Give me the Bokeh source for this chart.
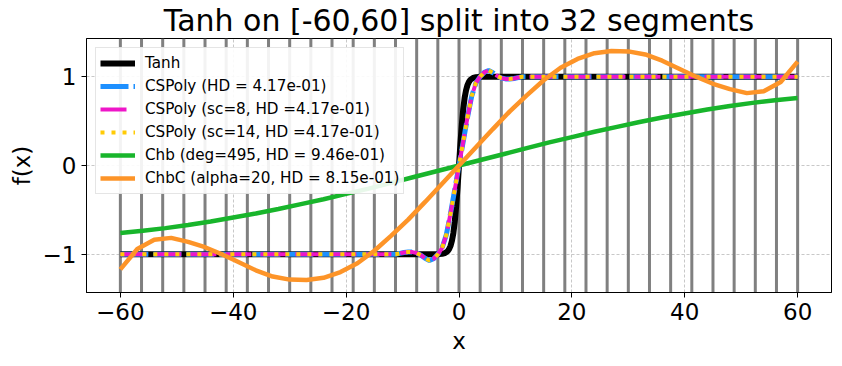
from bokeh.plotting import figure
from bokeh.models import Span, FixedTicker, Range1d
from bokeh.embed import file_html
from bokeh.resources import INLINE

# ---------------- data ----------------
title_text = "Tanh on [-60,60] split into 32 segments"

seg_bounds = [-60, -56.25, -52.5, -48.75, -45, -41.25, -37.5, -33.75, -30,
              -26.25, -22.5, -18.75, -15, -11.25, -7.5, -3.75, 0, 3.75, 7.5,
              11.25, 15, 18.75, 22.5, 26.25, 30, 33.75, 37.5, 41.25, 45,
              48.75, 52.5, 56.25, 60]

x_ticks = [-60, -40, -20, 0, 20, 40, 60]
y_ticks = [-1, 0, 1]

tanh_x = [-60, -10, -5, -4, -3.5, -3, -2.5, -2, -1.75, -1.5, -1.25, -1, -0.75,
          -0.5, -0.25, 0, 0.25, 0.5, 0.75, 1, 1.25, 1.5, 1.75, 2, 2.5, 3, 3.5,
          4, 5, 10, 60]
tanh_y = [-1, -1, -1, -0.999, -0.998, -0.995, -0.987, -0.964, -0.941, -0.905,
          -0.848, -0.762, -0.635, -0.462, -0.245, 0, 0.245, 0.462, 0.635,
          0.762, 0.848, 0.905, 0.941, 0.964, 0.987, 0.995, 0.998, 0.999, 1, 1, 1]

cs_x = [-60, -11.25, -10.5, -9.75, -9, -8.25, -7.5, -6.75, -6, -5.25, -4.5,
        -3.75, -3, -2.25, -1.5, -0.75, 0, 0.75, 1.5, 2.25, 3, 3.75, 4.5, 5.25,
        6, 6.75, 7.5, 8.25, 9, 9.75, 10.5, 11.25, 60]
cspoly_y = [-1, -1, -0.99, -0.98, -0.975, -0.975, -0.985, -1.01, -1.045, -1.07,
            -1.05, -1.0, -0.93, -0.78, -0.54, -0.27, 0, 0.27, 0.54, 0.78, 0.93,
            1.0, 1.05, 1.07, 1.045, 1.01, 0.985, 0.975, 0.975, 0.98, 0.99, 1, 1]
cspoly_sc8_y = [-1, -1, -0.99, -0.98, -0.975, -0.975, -0.985, -1.01, -1.045, -1.07,
                -1.05, -1.0, -0.93, -0.78, -0.54, -0.27, 0, 0.27, 0.54, 0.78, 0.93,
                1.0, 1.05, 1.07, 1.045, 1.01, 0.985, 0.975, 0.975, 0.98, 0.99, 1, 1]
cspoly_sc14_y = [-1, -1, -0.99, -0.98, -0.975, -0.975, -0.985, -1.01, -1.045, -1.07,
                 -1.05, -1.0, -0.93, -0.78, -0.54, -0.27, 0, 0.27, 0.54, 0.78, 0.93,
                 1.0, 1.05, 1.07, 1.045, 1.01, 0.985, 0.975, 0.975, 0.98, 0.99, 1, 1]

chb_x = [-60, -56, -52, -48, -44, -40, -36, -32, -28, -24, -20, -16, -12, -8,
         -4, 0, 4, 8, 12, 16, 20, 24, 28, 32, 36, 40, 44, 48, 52, 56, 60]
chb_y = [-0.76, -0.735, -0.705, -0.67, -0.63, -0.585, -0.54, -0.49, -0.435,
         -0.38, -0.32, -0.26, -0.195, -0.13, -0.065, 0, 0.065, 0.13, 0.195,
         0.26, 0.32, 0.38, 0.435, 0.49, 0.54, 0.585, 0.63, 0.67, 0.705, 0.735,
         0.76]

chbc_x = [-60, -57, -54, -51, -48, -45, -42, -39, -36, -33, -30, -27, -24,
          -21, -18, -15, -12, -9, -6, -3, 0, 3, 6, 9, 12, 15, 18, 21, 24, 27,
          30, 33, 36, 39, 42, 45, 48, 51, 54, 57, 60]
chbc_y = [-1.17, -0.94, -0.835, -0.815, -0.86, -0.92, -1.0, -1.09, -1.18,
          -1.25, -1.285, -1.29, -1.265, -1.2, -1.1, -0.96, -0.79, -0.61, -0.41,
          -0.205, 0, 0.205, 0.41, 0.61, 0.79, 0.96, 1.1, 1.2, 1.265, 1.29,
          1.285, 1.25, 1.18, 1.09, 1.0, 0.92, 0.86, 0.815, 0.835, 0.94, 1.17]

labels = ["Tanh", "CSPoly (HD = 4.17e-01)", "CSPoly (sc=8, HD =4.17e-01)",
          "CSPoly (sc=14, HD =4.17e-01)", "Chb (deg=495, HD = 9.46e-01)",
          "ChbC (alpha=20, HD = 8.15e-01)"]

FONT = "DejaVu Sans"

p = figure(width=833, height=357, output_backend="svg", toolbar_location=None,
           x_range=Range1d(-66, 66), y_range=Range1d(-1.43, 1.43),
           min_border_left=86, min_border_right=2, min_border_top=32,
           min_border_bottom=65)

p.title.text = title_text
p.title.align = "center"
p.title.text_font = FONT
p.title.text_font_size = "30px"
p.title.text_font_style = "normal"
p.title.text_color = "black"
p.title.standoff = 1

p.background_fill_color = "white"
p.border_fill_color = "white"
p.outline_line_color = "black"
p.outline_line_alpha = 1.0
p.outline_line_width = 1

p.xaxis.ticker = FixedTicker(ticks=x_ticks)
p.yaxis.ticker = FixedTicker(ticks=y_ticks)
p.xaxis.major_label_overrides = {t: str(t).replace("-", "\u2212") for t in x_ticks}
p.yaxis.major_label_overrides = {t: str(t).replace("-", "\u2212") for t in y_ticks}
p.xaxis.axis_label = "x"
p.yaxis.axis_label = "f(x)"
for ax in (p.xaxis, p.yaxis):
    ax.axis_line_color = "black"
    ax.axis_line_width = 1
    ax.major_tick_out = 5
    ax.major_tick_in = 0
    ax.major_tick_line_color = "black"
    ax.minor_tick_out = 0
    ax.minor_tick_in = 0
    ax.major_label_text_font = FONT
    ax.major_label_text_font_size = "23px"
    ax.major_label_text_color = "black"
    ax.major_label_standoff = 5
    ax.axis_label_text_font = FONT
    ax.axis_label_text_font_size = "23px"
    ax.axis_label_text_font_style = "normal"
    ax.axis_label_text_color = "black"
    ax.axis_label_standoff = 5

for g in (p.xgrid, p.ygrid):
    g.grid_line_color = "#b0b0b0"
    g.grid_line_dash = "3 2"
    g.grid_line_width = 0.7

for xb in seg_bounds:
    p.add_layout(Span(location=xb, dimension="height", line_color="#808080",
                      line_width=3, level="underlay"))

p.line(tanh_x, tanh_y, line_color="black", line_width=6, legend_label=labels[0])
p.line(cs_x, cspoly_y, line_color="#1e90ff", line_width=5, line_dash="28 5",
       legend_label=labels[1])
p.line(cs_x, cspoly_sc8_y, line_color="#ee16c8", line_width=4, line_dash="26 9",
       legend_label=labels[2])
p.line(cs_x, cspoly_sc14_y, line_color="#ffcb05", line_width=4, line_dash="4 7",
       legend_label=labels[3])
p.line(chb_x, chb_y, line_color="#18b52b", line_width=4.5, legend_label=labels[4])
p.line(chbc_x, chbc_y, line_color="#fd9428", line_width=4.5, legend_label=labels[5])

lg = p.legend[0]
lg.location = "top_left"
lg.margin = 9
lg.padding = 4
lg.spacing = 1
lg.glyph_width = 35
lg.glyph_height = 22
lg.label_height = 22
lg.label_standoff = 10
lg.label_text_font = FONT
lg.label_text_font_size = "15.2px"
lg.label_text_color = "black"
lg.border_line_color = "#cccccc"
lg.border_line_width = 1
lg.background_fill_alpha = 0.9

open("out.html", "w").write(file_html(p, INLINE))
